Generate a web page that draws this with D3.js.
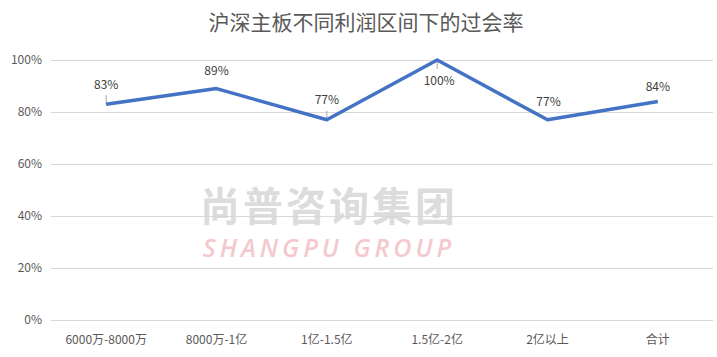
<!DOCTYPE html>
<html>
<head>
<meta charset="utf-8">
<script src="https://cdn.jsdelivr.net/npm/d3@7"></script>
<style>
  body { margin: 0; background: #fff; }
  svg { display: block; font-family: "Noto Sans CJK SC", "Noto Sans", sans-serif; }
</style>
</head>
<body>
<svg id="chart" width="717" height="357"></svg>
<script>
'use strict';

const title = '沪深主板不同利润区间下的过会率';
const categories = ['6000万-8000万', '8000万-1亿', '1亿-1.5亿', '1.5亿-2亿', '2亿以上', '合计'];
const rates = [0.83, 0.89, 0.77, 1.00, 0.77, 0.84];
const rateLabels = ['83%', '89%', '77%', '100%', '77%', '84%'];
const yTicks = [0, 0.2, 0.4, 0.6, 0.8, 1.0];
// label offsets relative to the point [dx, dy], and whether a leader line shows
const labelPos = [[0, -19], [0, -18], [0, -20], [2, 21], [1, -18], [0, -15]];
const leaders = [true, false, true, true, false, false];

const svg = d3.select('#chart');
const margin = {top: 60, right: 4, bottom: 37, left: 51};
const W = +svg.attr('width'), H = +svg.attr('height');

const x = d3.scaleBand().domain(categories).range([margin.left, W - margin.right]);
const y = d3.scaleLinear().domain([0, 1]).range([H - margin.bottom, margin.top]);

svg.append('text')
	.attr('x', 366)
	.attr('y', 30)
	.attr('text-anchor', 'middle')
	.attr('font-size', 21)
	.attr('fill', '#595959')
	.text(title);

// gridlines
svg.append('g')
	.selectAll('line')
	.data(yTicks)
	.join('line')
	.attr('x1', margin.left)
	.attr('x2', W - margin.right)
	.attr('y1', d => Math.round(y(d)) + 0.5)
	.attr('y2', d => Math.round(y(d)) + 0.5)
	.attr('stroke', '#d9d9d9')
	.attr('stroke-width', 1);

// y axis
let yAxis = svg.append('g')
	.attr('transform', `translate(${margin.left},0)`)
	.call(d3.axisLeft(y).tickValues(yTicks).tickFormat(d3.format('.0%')).tickSize(0).tickPadding(9));
yAxis.select('.domain').remove();
yAxis.selectAll('text').attr('font-size', 12).attr('fill', '#595959').attr('font-family', '"Noto Sans CJK SC", sans-serif');

// x axis
let xAxis = svg.append('g')
	.attr('transform', `translate(0,${H - margin.bottom})`)
	.call(d3.axisBottom(x).tickSize(0).tickPadding(15));
xAxis.select('.domain').remove();
xAxis.selectAll('text').attr('font-size', 12).attr('fill', '#595959').attr('font-family', '"Noto Sans CJK SC", sans-serif');

// watermark
svg.append('text')
	.attr('x', 329)
	.attr('y', 221)
	.attr('text-anchor', 'middle')
	.attr('font-size', 40)
	.attr('font-weight', 'bold')
	.attr('letter-spacing', 3)
	.attr('fill', '#d6d6d6')
	.attr('fill-opacity', 0.85)
	.text('尚普咨询集团');
svg.append('text')
	.attr('x', 329)
	.attr('y', 257)
	.attr('text-anchor', 'middle')
	.attr('font-size', 25)
	.attr('font-style', 'italic')
	.attr('font-weight', 600)
	.attr('letter-spacing', 4)
	.attr('font-family', '"Open Sans", sans-serif')
	.attr('fill', '#f4c9ce')
	.text('SHANGPU GROUP');

const pts = categories.map((c, i) => ({c, v: rates[i], label: rateLabels[i], off: labelPos[i], leader: leaders[i]}));

// leader lines
svg.append('g')
	.selectAll('line')
	.data(pts.filter(d => d.leader))
	.join('line')
	.attr('x1', d => x(d.c) + x.bandwidth() / 2)
	.attr('x2', d => x(d.c) + x.bandwidth() / 2)
	.attr('y1', d => y(d.v))
	.attr('y2', d => y(d.v) + (d.off[1] > 0 ? 9 : -9))
	.attr('stroke', '#a6a6a6')
	.attr('stroke-width', 1);

svg.append('path')
	.datum(pts)
	.attr('fill', 'none')
	.attr('stroke', '#4472c4')
	.attr('stroke-width', 3.5)
	.attr('stroke-linejoin', 'round')
	.attr('d', d3.line().x(d => x(d.c) + x.bandwidth() / 2).y(d => y(d.v)));

svg.append('g')
	.selectAll('text')
	.data(pts)
	.join('text')
	.attr('x', d => x(d.c) + x.bandwidth() / 2 + d.off[0])
	.attr('y', d => y(d.v) + d.off[1])
	.attr('dy', '0.35em')
	.attr('text-anchor', 'middle')
	.attr('font-size', 12)
	.attr('fill', '#404040')
	.text(d => d.label);
</script>
</body>
</html>
